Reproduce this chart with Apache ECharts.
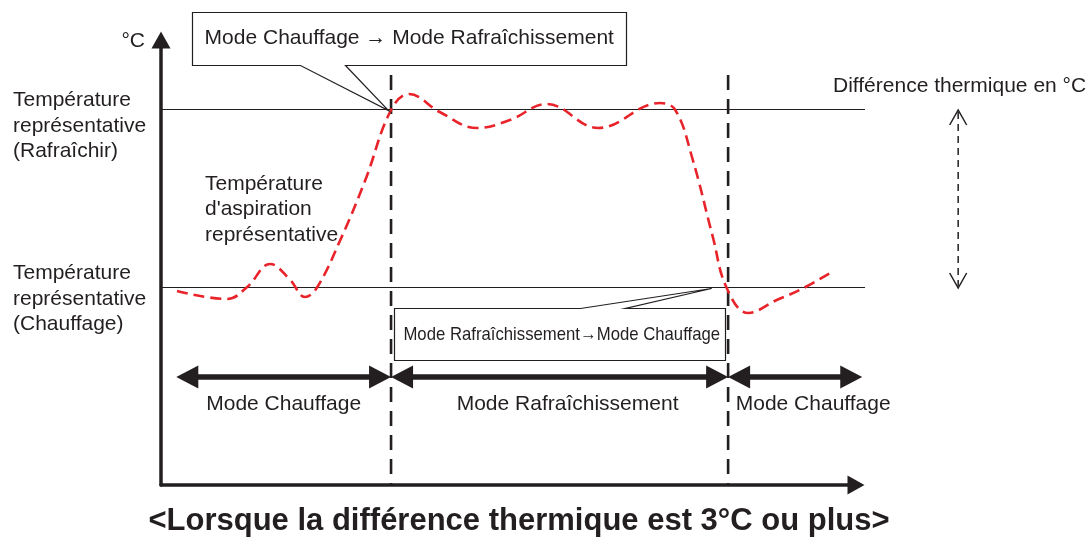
<!DOCTYPE html>
<html>
<head>
<meta charset="utf-8">
<script src="https://cdn.jsdelivr.net/npm/echarts@6/dist/echarts.min.js"></script>
<style>
  html, body { margin: 0; padding: 0; background: #fff; }
  #chart { width: 1092px; height: 542px; }
</style>
</head>
<body>
<div id="chart"></div>
<script>
// Suction temperature trace (time in arbitrary units, temperature in scale units)
const timeSteps   = [2.3, 9.5, 12.4, 15.7, 18.6, 20.7, 22.4, 25.8, 29.4, 33.1, 35.7, 40.1, 45.5, 50.2, 55.5, 62.9, 71.8, 74.0, 76.4, 79.4, 81.4, 84.5, 88.6, 91.9, 96.3];
const suctionTemp = [38.8, 37.2, 39.6, 44.2, 41.0, 37.6, 39.4, 49.0, 61.0, 75.0, 78.2, 74.6, 71.4, 73.0, 76.2, 71.4, 76.4, 75.0, 65.6, 49.6, 39.4, 34.4, 37.0, 39.0, 42.4];

// Representative set temperatures (cooling, heating)
const refTemps = [75, 39.4];
const refNames = ['Température\nreprésentative\n(Rafraîchir)', 'Température\nreprésentative\n(Chauffage)'];

// Mode change instants and mode spans
const switchTimes = [33.1, 81.6];
const modeBounds  = [2.2, 33.1, 81.6, 100.9];
const modeNames   = ['Mode Chauffage', 'Mode Rafraîchissement', 'Mode Chauffage'];

// Callouts: point where each change is triggered
const calloutPoints = [[32.7, 75], [79.1, 39.4]];
const calloutTexts  = ['Mode Chauffage \u2192 Mode Rafraîchissement', 'Mode Rafraîchissement\u2192Mode Chauffage'];

// Temperature-difference marker position (time units)
const diffArrowX = [114.7];

// ---- styling / layout ----
const INK  = '#231f20';
const RED  = '#e8232a';
const FONT = '"Liberation Sans", Arial, Helvetica, sans-serif';
const refLineEnd = 101.3;
const switchLineTop = 82;
const modeArrowLevel = 21.6;
const refLabelDy = [16, 11];
const modeLabelDx = [0, 8, 18];

// keep thin horizontal strokes crisp
const crisp = v => Math.round(v) + 0.5;

const chart = echarts.init(document.getElementById('chart'), null, { renderer: 'canvas' });

const axisCommon = {
  type: 'value',
  axisTick: { show: false },
  axisLabel: { show: false },
  splitLine: { show: false },
  axisLine: {
    show: true,
    symbol: ['none', 'triangle'],
    symbolSize: [19, 17],
    lineStyle: { color: INK, width: 3.5 }
  }
};

const option = {
  animation: false,
  grid: { left: 161, top: 40, width: 695, height: 445, containLabel: false },
  xAxis: Object.assign({}, axisCommon, { min: 0, max: 100 }),
  yAxis: Object.assign({}, axisCommon, { min: 0, max: 89 }),
  series: [
    // reference temperature lines with their names on the left
    {
      type: 'custom',
      silent: true,
      z: 2,
      data: refTemps.map((t, i) => [i, t]),
      renderItem(params, api) {
        const i = api.value(0), t = api.value(1);
        const a = api.coord([0, t]);
        const b = api.coord([refLineEnd, t]);
        const y = crisp(a[1]) - 1;
        return {
          type: 'group',
          children: [
            { type: 'line', shape: { x1: a[0], y1: y, x2: b[0], y2: y },
              style: { stroke: INK, lineWidth: 1.1 } },
            { type: 'text', x: 13, y: a[1] + refLabelDy[i],
              style: { text: refNames[i], font: '21px ' + FONT, fill: INK,
                       align: 'left', verticalAlign: 'middle', lineHeight: 25.5 } }
          ]
        };
      }
    },
    // dashed vertical lines at each mode change
    {
      type: 'custom',
      silent: true,
      z: 3,
      data: switchTimes.map(t => [t, 0]),
      renderItem(params, api) {
        const x = api.value(0);
        const top = api.coord([x, switchLineTop]);
        const bot = api.coord([x, 0]);
        return { type: 'line', shape: { x1: top[0], y1: top[1], x2: bot[0], y2: bot[1] },
                 style: { stroke: INK, lineWidth: 2.6, lineDash: [15, 9] } };
      }
    },
    // suction temperature curve
    {
      type: 'line',
      name: "Température d'aspiration représentative",
      data: timeSteps.map((t, i) => [t, suctionTemp[i]]),
      smooth: 0.4,
      showSymbol: false,
      clip: false,
      z: 5,
      lineStyle: { color: RED, width: 2.6, type: [11, 6] }
    },
    // double-headed arrows for each operating mode
    {
      type: 'custom',
      silent: true,
      z: 4,
      data: modeNames.map((n, i) => [modeBounds[i], modeArrowLevel, modeBounds[i + 1], i]),
      renderItem(params, api) {
        const x0 = api.value(0), lvl = api.value(1), x1 = api.value(2), i = api.value(3);
        const p0 = api.coord([x0, lvl]);
        const p1 = api.coord([x1, lvl]);
        const y = p0[1], L = 22, H = 11.5;
        return {
          type: 'group',
          children: [
            { type: 'line', shape: { x1: p0[0] + L - 2, y1: y, x2: p1[0] - L + 2, y2: y },
              style: { stroke: INK, lineWidth: 5.5 } },
            { type: 'polygon', shape: { points: [[p0[0], y], [p0[0] + L, y - H], [p0[0] + L, y + H]] },
              style: { fill: INK } },
            { type: 'polygon', shape: { points: [[p1[0], y], [p1[0] - L, y - H], [p1[0] - L, y + H]] },
              style: { fill: INK } },
            { type: 'text', x: (p0[0] + p1[0]) / 2 + modeLabelDx[i], y: y + 27,
              style: { text: modeNames[i], font: '21px ' + FONT, fill: INK,
                       align: 'center', verticalAlign: 'middle' } }
          ]
        };
      }
    },
    // callout boxes describing the mode changes
    {
      type: 'custom',
      silent: true,
      z: 6,
      data: calloutPoints.map((p, i) => [p[0], p[1], i]),
      renderItem(params, api) {
        const i = api.value(2);
        const tip = api.coord([api.value(0), api.value(1)]);
        const tx = tip[0], ty = tip[1];
        let pts, textPos, scaleX, fontSize;
        if (i === 0) {
          // box above, pointer hanging from its bottom edge
          pts = [[238, -45], [-43, -45], [0, 0], [-88, -45], [-196, -45], [-196, -98], [238, -98]];
          textPos = [21, -71.5]; scaleX = 1; fontSize = 21;
        } else {
          // box below, pointer rising from its top edge
          pts = [[-317, 20], [-131, 20], [0, 0], [-86, 20], [14, 20], [14, 72], [-317, 72]];
          textPos = [-149, 47]; scaleX = 0.88; fontSize = 19;
        }
        return {
          type: 'group',
          children: [
            { type: 'polygon', shape: { points: pts.map(p => [Math.round(tx + p[0]) + 0.5, Math.round(ty + p[1]) + 0.5]) },
              style: { fill: '#fff', stroke: INK, lineWidth: 1.2 } },
            { type: 'text', x: tx + textPos[0], y: ty + textPos[1], scaleX: scaleX,
              style: { text: calloutTexts[i], font: fontSize + 'px ' + FONT, fill: INK,
                       align: 'center', verticalAlign: 'middle' } }
          ]
        };
      }
    },
    // dashed double arrow spanning the two representative temperatures
    {
      type: 'custom',
      silent: true,
      z: 3,
      data: diffArrowX.map(x => [x, refTemps[0], refTemps[1]]),
      renderItem(params, api) {
        const x = api.value(0);
        const a = api.coord([x, api.value(1)]);
        const b = api.coord([x, api.value(2)]);
        const w = 8.5, h = 15;
        return {
          type: 'group',
          children: [
            { type: 'line', shape: { x1: a[0], y1: a[1] + 2, x2: b[0], y2: b[1] - 2 },
              style: { stroke: INK, lineWidth: 1.5, lineDash: [7, 5] } },
            { type: 'polyline', shape: { points: [[a[0] - w, a[1] + h], [a[0], a[1]], [a[0] + w, a[1] + h]] },
              style: { stroke: INK, lineWidth: 1.5, fill: null } },
            { type: 'polyline', shape: { points: [[b[0] - w, b[1] - h], [b[0], b[1]], [b[0] + w, b[1] - h]] },
              style: { stroke: INK, lineWidth: 1.5, fill: null } }
          ]
        };
      }
    }
  ],
  graphic: [
    { type: 'text', x: 145, y: 41, silent: true,
      style: { text: '°C', font: '21px ' + FONT, fill: INK, align: 'right', verticalAlign: 'middle' } },
    { type: 'text', x: 205, y: 209.5, silent: true,
      style: { text: "Température\nd'aspiration\nreprésentative", font: '21px ' + FONT, fill: INK,
               align: 'left', verticalAlign: 'middle', lineHeight: 25.5 } },
    { type: 'text', x: 833, y: 86, silent: true,
      style: { text: 'Différence thermique en °C', font: '21px ' + FONT, fill: INK,
               align: 'left', verticalAlign: 'middle' } },
    { type: 'text', x: 519, y: 521, silent: true,
      style: { text: '<Lorsque la différence thermique est 3°C ou plus>', font: 'bold 31px ' + FONT,
               fill: INK, align: 'center', verticalAlign: 'middle' } }
  ]
};

chart.setOption(option);
</script>
</body>
</html>
